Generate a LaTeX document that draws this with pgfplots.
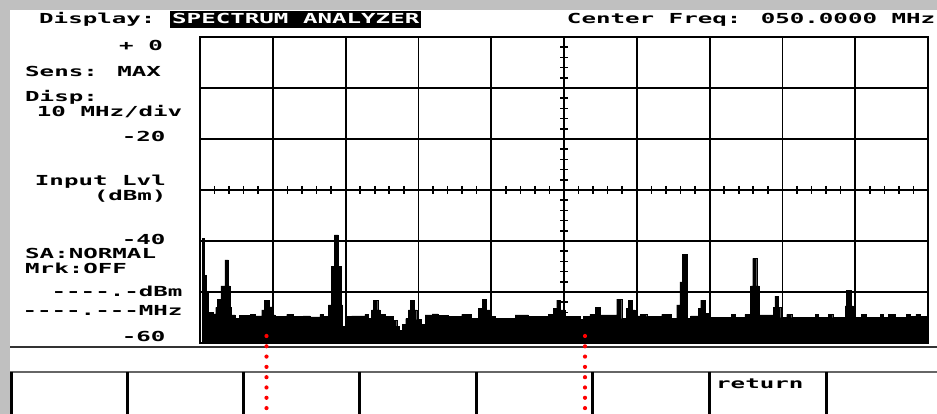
\documentclass[border=0pt]{standalone}
\usepackage{pgfplots}
\pgfplotsset{compat=1.18}
\usepackage{fontspec}
\newfontfamily\pix{DejaVu Sans Mono}[FakeStretch=1.75]
\definecolor{bggray}{RGB}{192,192,192}
\newcommand{\pt}{\pix\bfseries\fontsize{13.8bp}{16bp}\selectfont}
\begin{document}
\begin{tikzpicture}
\useasboundingbox (0bp,0bp) rectangle (937bp,414bp);
\begin{scope}[x=1bp,y=-1bp,shift={(0bp,414bp)}]
\fill[bggray] (0,0) rectangle (937,414);
\fill[white] (10,10) rectangle (937,414);
\end{scope}
\begin{axis}[at={(200bp,71bp)}, anchor=south west, scale only axis,
  width=728bp, height=306bp,
  xmin=0, xmax=100, ymin=-60, ymax=0,
  xtick={0,10,...,100}, ytick={-60,-50,...,0},
  xticklabels={}, yticklabels={}, major tick length=0pt,
  grid=major, major grid style={black, line width=1.8bp},
  axis line style={black, line width=1.9bp}, axis on top]
\addplot[const plot, fill=black, draw=black, line width=0.4bp] table {
0.32 -60
0.32 -39.5
0.59 -46.7
0.92 -49.9
1.14 -54.0
1.83 -54.3
2.16 -53.0
2.43 -51.4
2.88 -48.8
3.43 -43.7
3.89 -48.8
4.12 -53.0
4.35 -54.5
4.81 -55.2
5.36 -54.6
6.87 -54.4
7.55 -54.7
8.48 -53.5
8.83 -51.7
9.48 -52.9
9.93 -54.5
10.30 -54.8
11.91 -54.4
12.82 -54.8
14.15 -54.7
15.11 -54.9
16.48 -54.4
16.94 -54.8
17.62 -52.5
18.09 -45.0
18.45 -38.8
19.00 -45.0
19.37 -52.5
19.60 -56.7
20.01 -54.8
20.84 -54.7
22.66 -54.4
23.12 -55.2
23.58 -53.5
23.80 -51.7
24.41 -53.5
24.73 -54.4
25.41 -54.8
26.55 -55.5
27.02 -56.7
27.34 -57.5
27.79 -56.3
28.26 -55.2
28.61 -53.5
28.85 -51.7
29.44 -53.5
29.77 -55.4
30.36 -56.3
30.91 -54.5
31.87 -54.3
32.69 -54.6
34.11 -54.8
35.95 -54.4
37.32 -55.2
38.23 -53.2
38.78 -51.4
39.38 -53.5
39.84 -54.8
40.52 -55.2
43.27 -54.5
45.10 -54.8
47.84 -54.4
48.53 -53.2
49.00 -51.6
49.45 -53.5
50.14 -54.8
52.20 -55.4
52.65 -54.8
53.57 -54.4
54.26 -53.0
54.95 -54.5
57.24 -51.4
57.93 -55.2
58.52 -53.2
58.83 -51.7
59.38 -53.5
59.75 -54.7
60.44 -54.4
61.36 -54.8
63.42 -54.4
64.79 -55.2
65.48 -52.5
65.93 -48.0
66.30 -42.6
66.94 -55.2
67.40 -54.7
68.45 -53.2
68.78 -51.6
69.46 -54.2
69.92 -55.0
73.03 -54.4
73.49 -55.0
74.86 -54.4
75.64 -48.8
75.92 -43.4
76.47 -48.8
76.79 -54.5
78.75 -53.0
78.98 -50.8
79.44 -53.0
79.77 -55.0
80.59 -54.4
81.28 -55.0
84.48 -54.4
84.93 -55.0
86.31 -54.4
86.91 -55.0
88.60 -52.7
88.83 -49.7
89.42 -52.7
89.74 -55.0
90.89 -54.4
91.48 -55.0
93.41 -54.4
93.86 -55.0
94.51 -54.4
95.47 -55.0
97.07 -54.4
97.53 -54.8
98.35 -54.4
98.90 -54.8
100 -54.8
100 -60
};
\end{axis}
\begin{scope}[x=1bp,y=-1bp,shift={(0bp,414bp)}]
% centre cross ticks
\foreach \k in {1,...,29} \draw[line width=1.6bp] (560,{37+\k*10.2}) -- (568,{37+\k*10.2});
\foreach \k in {1,...,49} \draw[line width=1.6bp] ({200+\k*14.56},186) -- ({200+\k*14.56},194);
\draw[line width=1.8bp] (564,37) -- (564,343);
\draw[line width=1.8bp] (200,190) -- (928,190);
% header
\node[anchor=base west, inner sep=0pt] at (39,24) {\pt Display:};
\fill[black] (170,11) rectangle (421,28);
\node[anchor=base west, inner sep=0pt, text=white] at (172,24) {\pt SPECTRUM ANALYZER};
\node[anchor=base east, inner sep=0pt] at (935.5,24) {\pt Center Freq: 050.0000 MHz};
% left labels
\node[anchor=base east, inner sep=0pt] at (163,50.5) {\pt + 0};
\node[anchor=base west, inner sep=0pt] at (25,77) {\pt Sens: MAX};
\node[anchor=base west, inner sep=0pt] at (25,101.5) {\pt Disp:};
\node[anchor=base east, inner sep=0pt] at (182.5,117) {\pt 10 MHz/div};
\node[anchor=base east, inner sep=0pt] at (165.7,142) {\pt -20};
\node[anchor=base east, inner sep=0pt] at (166,186) {\pt Input Lvl};
\node[anchor=base east, inner sep=0pt] at (166.7,200.5) {\pt (dBm)};
\node[anchor=base east, inner sep=0pt] at (165.7,245) {\pt -40};
\node[anchor=base west, inner sep=0pt] at (25,259) {\pt SA:NORMAL};
\node[anchor=base west, inner sep=0pt] at (25,273.5) {\pt Mrk:OFF};
\node[anchor=base east, inner sep=0pt] at (182.7,296.7) {\pt ----.-dBm};
\node[anchor=base east, inner sep=0pt] at (182.7,316) {\pt ----.---MHz};
\node[anchor=base east, inner sep=0pt] at (165.7,341.5) {\pt -60};
% bottom area
\draw[line width=1.5bp, black!80] (10,347) -- (937,347);
\draw[line width=1.2bp, black!60] (10,372) -- (937,372);
\foreach \x in {11.5,127,243,359.5,476,592,709,826} \draw[line width=3bp] (\x,372) -- (\x,414);
\node[anchor=base west, inner sep=0pt] at (716,389) {\pt return};
% red dotted markers
\foreach \k in {0,...,7} {
  \fill[red] (266.5,{336+\k*10.3}) circle[radius=2.1bp];
  \fill[red] (585,{336+\k*10.3}) circle[radius=2.1bp];
}
\end{scope}
\end{tikzpicture}
\end{document}
